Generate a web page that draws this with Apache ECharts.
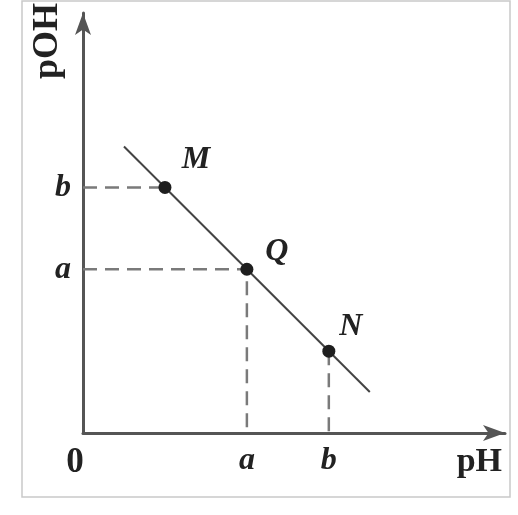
<!DOCTYPE html>
<html>
<head>
<meta charset="utf-8">
<style>
  html, body { margin: 0; padding: 0; background: #fff; }
  #chart { width: 518px; height: 515px; }
</style>
<script src="https://cdn.jsdelivr.net/npm/echarts@6/dist/echarts.min.js"></script>
</head>
<body>
<div id="chart"></div>
<script>
// pH / pOH diagram: straight line pOH = const - pH with three marked points.
const pointNames = ['M', 'Q', 'N'];
const pointPH = [1, 2, 3];
const pointPOH = [3, 2, 1];
const lineEnds = [[0.5, 3.5], [3.5, 0.5]];
// symbolic tick labels: value -> text
const xTickLabels = { 0: '0', 2: 'a', 3: 'b' };
const yTickLabels = { 2: 'a', 3: 'b' };

const serif = '"Liberation Serif", "DejaVu Serif", serif';
const ink = '#222';
const axisInk = '#555';
const dashInk = '#7a7a7a';

// label offsets for the point names (px, relative to each point)
const nameOffsets = { M: [31, -28], Q: [30, -18], N: [22, -24] };

const dashStyle = { color: dashInk, width: 2.5, type: [14, 8] };
function guide(pts) {
  return {
    type: 'line', data: pts, symbol: 'none', silent: true,
    lineStyle: dashStyle, z: 1
  };
}

const guides = pointPH.map((x, i) => {
  const y = pointPOH[i];
  const name = pointNames[i];
  if (name === 'M') return guide([[0, y], [x, y]]);
  if (name === 'Q') return guide([[0, y], [x, y], [x, 0]]);
  return guide([[x, y], [x, 0]]);
});

const chart = echarts.init(document.getElementById('chart'));
chart.setOption({
  animation: false,
  backgroundColor: '#fff',
  graphic: [{
    type: 'rect', silent: true, z: -1,
    shape: { x: 22, y: 1, width: 488, height: 496 },
    style: { fill: 'none', stroke: '#c9c9c9', lineWidth: 1.5 }
  }],
  grid: { left: 83, right: 13, top: 12, bottom: 82 },
  xAxis: {
    type: 'value', min: 0, max: 5.15, interval: 1,
    name: 'pH', nameLocation: 'end', nameGap: -3,
    nameTextStyle: {
      fontFamily: serif, fontWeight: 'bold', fontSize: 34, color: ink,
      align: 'right', verticalAlign: 'top', padding: [12, 0, 0, 0]
    },
    axisLine: { lineStyle: { color: axisInk, width: 3 }, symbol: ['none', 'arrow'], symbolSize: [12, 22] },
    axisTick: { show: false },
    splitLine: { show: false },
    axisLabel: {
      showMaxLabel: false,
      margin: 12,
      fontFamily: serif, fontWeight: 'bold', fontStyle: 'italic', fontSize: 32, color: ink,
      formatter: v => {
        const t = xTickLabels[v];
        if (t === undefined) return '';
        return v === 0 ? '{z|0}' : t;
      },
      rich: {
        z: { fontFamily: serif, fontWeight: 'bold', fontStyle: 'normal', fontSize: 35, color: ink, padding: [0, 16, 0, 0] }
      }
    }
  },
  yAxis: {
    type: 'value', min: 0, max: 5.13, interval: 1,
    name: 'pOH', nameLocation: 'end', nameGap: 10, nameRotate: 90,
    nameTextStyle: {
      fontFamily: serif, fontWeight: 'bold', fontSize: 36, color: ink,
      align: 'right', verticalAlign: 'bottom', padding: [0, 0, 17, 0]
    },
    axisLine: { lineStyle: { color: axisInk, width: 3 }, symbol: ['none', 'arrow'], symbolSize: [12, 22] },
    axisTick: { show: false },
    splitLine: { show: false },
    axisLabel: {
      showMaxLabel: false,
      margin: 12,
      fontFamily: serif, fontWeight: 'bold', fontStyle: 'italic', fontSize: 32, color: ink,
      formatter: v => (yTickLabels[v] === undefined ? '' : yTickLabels[v])
    }
  },
  series: [
    ...guides,
    {
      type: 'line', data: lineEnds, symbol: 'none', silent: true, z: 2,
      lineStyle: { color: '#444', width: 2 }
    },
    {
      type: 'scatter', z: 3, symbolSize: 13,
      itemStyle: { color: '#1e1e1e', opacity: 1 },
      data: pointNames.map((n, i) => ({
        name: n, value: [pointPH[i], pointPOH[i]],
        label: { offset: nameOffsets[n] }
      })),
      label: {
        show: true, position: 'inside', formatter: '{b}',
        fontFamily: serif, fontWeight: 'bold', fontStyle: 'italic', fontSize: 32, color: ink
      }
    }
  ]
});
</script>
</body>
</html>
